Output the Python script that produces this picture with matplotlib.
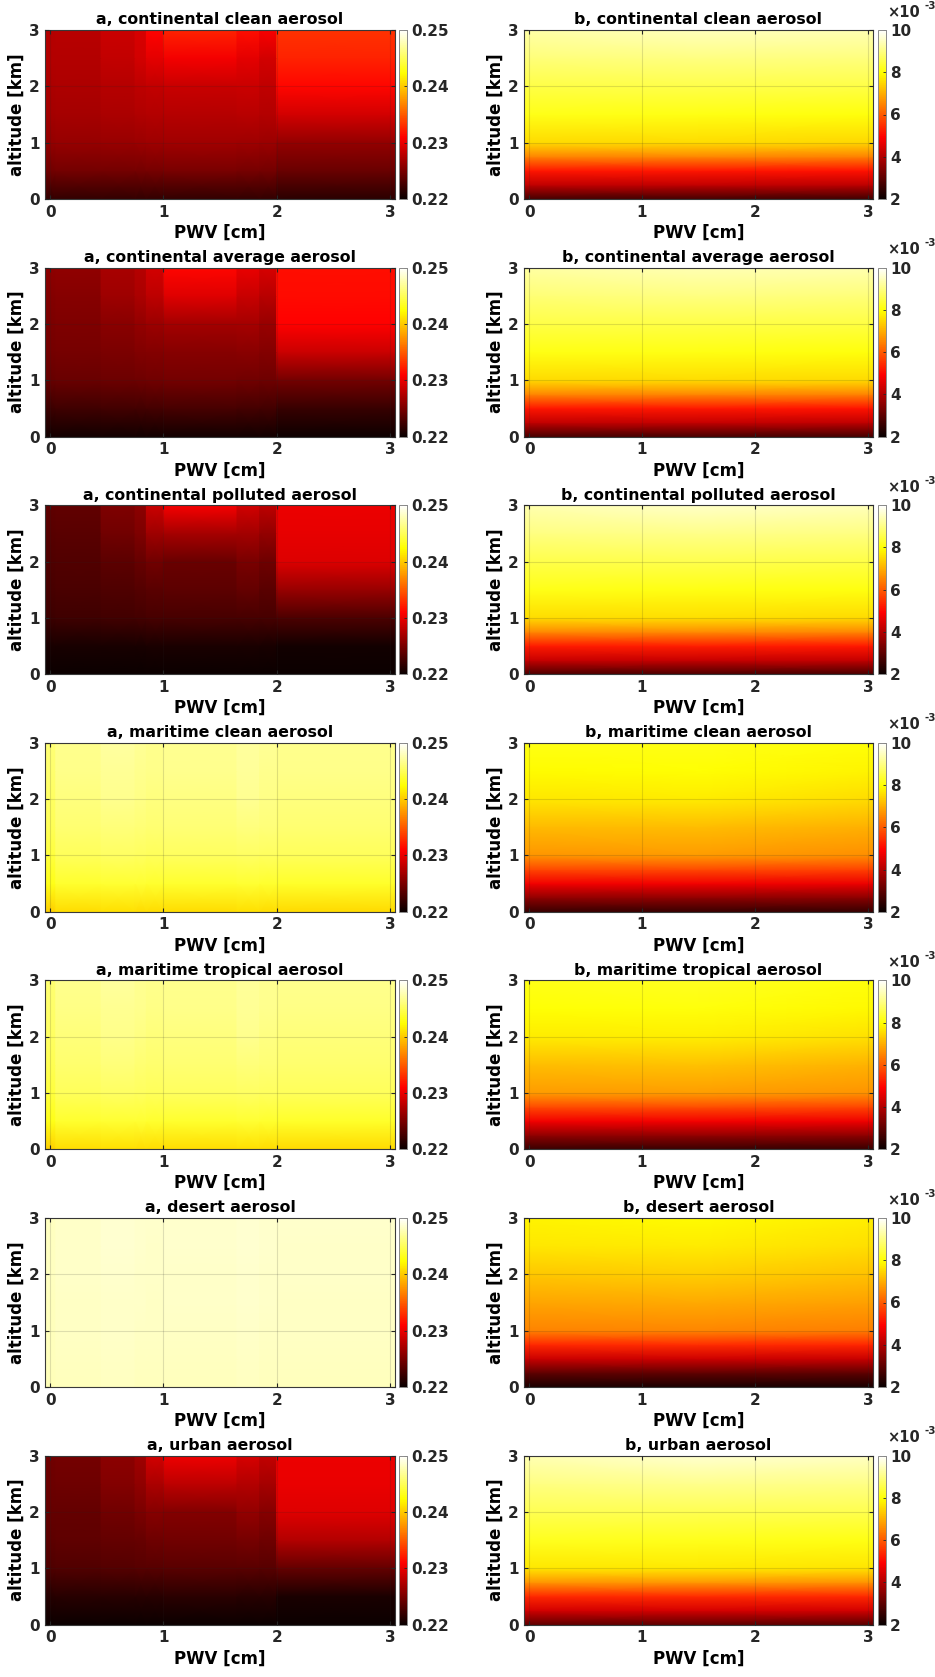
import numpy as np
import matplotlib
matplotlib.use("Agg")
import matplotlib.pyplot as plt
from matplotlib.ticker import FuncFormatter

plt.rcParams['font.family'] = ['DejaVu Sans']
plt.rcParams['font.weight'] = 'bold'

# ---------------- data ----------------
titles = ["continental clean aerosol", "continental average aerosol",
          "continental polluted aerosol", "maritime clean aerosol",
          "maritime tropical aerosol", "desert aerosol", "urban aerosol"]

# left panels (a): altitude levels x PWV bands
alt_a = [0.0, 0.5, 1.0, 1.5, 2.0, 2.5, 3.0]
pwv_edges_a = [-0.045, 0.05, 0.45, 0.75, 0.85, 1.0, 1.65, 1.85, 2.0, 3.045]

a_cont_clean = [
    [0.2218, 0.2218, 0.2218, 0.2218, 0.2218, 0.2218, 0.2218, 0.2218, 0.2215],
    [0.2246, 0.2247, 0.2248, 0.2248, 0.2249, 0.2250, 0.2249, 0.2248, 0.2243],
    [0.2262, 0.2263, 0.2264, 0.2265, 0.2266, 0.2267, 0.2266, 0.2265, 0.2262],
    [0.2268, 0.2270, 0.2272, 0.2274, 0.2276, 0.2277, 0.2278, 0.2275, 0.2290],
    [0.2272, 0.2273, 0.2277, 0.2280, 0.2283, 0.2285, 0.2286, 0.2281, 0.2312],
    [0.2275, 0.2276, 0.2283, 0.2290, 0.2298, 0.2305, 0.2298, 0.2290, 0.2325],
    [0.2277, 0.2278, 0.2286, 0.2292, 0.2311, 0.2325, 0.2316, 0.2307, 0.2332]]
a_cont_avg = [
    [0.2204, 0.2204, 0.2204, 0.2204, 0.2204, 0.2204, 0.2204, 0.2204, 0.2202],
    [0.2223, 0.2224, 0.2225, 0.2225, 0.2226, 0.2227, 0.2226, 0.2225, 0.2220],
    [0.2242, 0.2243, 0.2244, 0.2245, 0.2246, 0.2247, 0.2246, 0.2245, 0.2247],
    [0.2248, 0.2249, 0.2251, 0.2253, 0.2255, 0.2256, 0.2257, 0.2254, 0.2286],
    [0.2251, 0.2252, 0.2257, 0.2262, 0.2265, 0.2268, 0.2270, 0.2264, 0.2310],
    [0.2255, 0.2256, 0.2266, 0.2272, 0.2280, 0.2295, 0.2285, 0.2278, 0.2314],
    [0.2259, 0.2260, 0.2271, 0.2277, 0.2290, 0.2312, 0.2300, 0.2292, 0.2315]]
a_cont_poll = [
    [0.2200, 0.2200, 0.2200, 0.2200, 0.2200, 0.2200, 0.2200, 0.2200, 0.2200],
    [0.2206, 0.2206, 0.2207, 0.2207, 0.2208, 0.2208, 0.2208, 0.2207, 0.2204],
    [0.2223, 0.2224, 0.2225, 0.2226, 0.2227, 0.2228, 0.2228, 0.2227, 0.2230],
    [0.2228, 0.2229, 0.2231, 0.2233, 0.2236, 0.2237, 0.2240, 0.2236, 0.2264],
    [0.2231, 0.2232, 0.2237, 0.2242, 0.2246, 0.2243, 0.2250, 0.2245, 0.2294],
    [0.2235, 0.2236, 0.2246, 0.2252, 0.2266, 0.2270, 0.2268, 0.2262, 0.2299],
    [0.2238, 0.2239, 0.2252, 0.2258, 0.2286, 0.2306, 0.2290, 0.2280, 0.2301]]
a_mar_clean = [
    [0.2402, 0.2408, 0.2409, 0.2408, 0.2408, 0.2408, 0.2409, 0.2408, 0.2407],
    [0.2430, 0.2437, 0.2439, 0.2438, 0.2437, 0.2437, 0.2439, 0.2437, 0.2436],
    [0.2442, 0.2450, 0.2452, 0.2451, 0.2450, 0.2451, 0.2453, 0.2451, 0.2450],
    [0.2449, 0.2457, 0.2460, 0.2458, 0.2457, 0.2458, 0.2461, 0.2459, 0.2457],
    [0.2453, 0.2461, 0.2465, 0.2463, 0.2461, 0.2462, 0.2467, 0.2463, 0.2461],
    [0.2456, 0.2464, 0.2468, 0.2466, 0.2464, 0.2465, 0.2469, 0.2466, 0.2464],
    [0.2458, 0.2466, 0.2471, 0.2468, 0.2466, 0.2467, 0.2470, 0.2468, 0.2466]]
a_mar_trop = [
    [0.2402, 0.2408, 0.2409, 0.2408, 0.2408, 0.2408, 0.2409, 0.2408, 0.2407],
    [0.2430, 0.2437, 0.2439, 0.2438, 0.2437, 0.2437, 0.2439, 0.2437, 0.2436],
    [0.2442, 0.2450, 0.2452, 0.2451, 0.2450, 0.2451, 0.2453, 0.2451, 0.2450],
    [0.2448, 0.2456, 0.2459, 0.2457, 0.2456, 0.2457, 0.2460, 0.2458, 0.2456],
    [0.2452, 0.2460, 0.2464, 0.2462, 0.2460, 0.2461, 0.2466, 0.2462, 0.2460],
    [0.2455, 0.2463, 0.2467, 0.2465, 0.2463, 0.2464, 0.2468, 0.2465, 0.2463],
    [0.2457, 0.2465, 0.2470, 0.2467, 0.2465, 0.2466, 0.2469, 0.2467, 0.2465]]
a_desert = [
    [0.2478, 0.2480, 0.2481, 0.2480, 0.2480, 0.2480, 0.2481, 0.2480, 0.2480],
    [0.2479, 0.2481, 0.2482, 0.2481, 0.2481, 0.2481, 0.2482, 0.2481, 0.2481],
    [0.2480, 0.2482, 0.2483, 0.2482, 0.2482, 0.2482, 0.2483, 0.2482, 0.2482],
    [0.2480, 0.2482, 0.2483, 0.2483, 0.2482, 0.2483, 0.2484, 0.2483, 0.2482],
    [0.2481, 0.2483, 0.2484, 0.2483, 0.2483, 0.2483, 0.2484, 0.2483, 0.2483],
    [0.2481, 0.2483, 0.2485, 0.2484, 0.2483, 0.2484, 0.2485, 0.2484, 0.2483],
    [0.2481, 0.2483, 0.2485, 0.2484, 0.2484, 0.2484, 0.2485, 0.2484, 0.2484]]
a_urban = [
    [0.2201, 0.2201, 0.2201, 0.2201, 0.2201, 0.2201, 0.2201, 0.2201, 0.2200],
    [0.2212, 0.2213, 0.2213, 0.2214, 0.2214, 0.2215, 0.2214, 0.2213, 0.2208],
    [0.2231, 0.2232, 0.2233, 0.2234, 0.2235, 0.2236, 0.2236, 0.2235, 0.2240],
    [0.2237, 0.2238, 0.2240, 0.2242, 0.2245, 0.2246, 0.2249, 0.2245, 0.2275],
    [0.2240, 0.2241, 0.2246, 0.2251, 0.2256, 0.2255, 0.2262, 0.2256, 0.2296],
    [0.2244, 0.2245, 0.2254, 0.2260, 0.2272, 0.2280, 0.2276, 0.2270, 0.2300],
    [0.2246, 0.2247, 0.2258, 0.2266, 0.2290, 0.2303, 0.2292, 0.2283, 0.2301]]
a_data = [a_cont_clean, a_cont_avg, a_cont_poll, a_mar_clean, a_mar_trop, a_desert, a_urban]

# right panels (b): altitude levels x PWV columns (gouraud nodes)
alt_b = [0.0, 0.25, 0.5, 0.75, 1.0, 1.5, 2.0, 2.5, 3.0]
pwv_nodes_b = [-0.045, 1.5, 3.045]

b_cont_clean = [
    [2.69e-3, 2.69e-3, 2.65e-3], [4.18e-3, 4.20e-3, 4.15e-3], [5.16e-3, 5.18e-3, 5.12e-3],
    [6.48e-3, 6.50e-3, 6.45e-3], [7.50e-3, 7.55e-3, 7.48e-3], [8.13e-3, 8.10e-3, 8.05e-3],
    [8.53e-3, 8.55e-3, 8.50e-3], [8.93e-3, 9.00e-3, 8.95e-3], [9.30e-3, 9.45e-3, 9.40e-3]]
b_cont_avg = [
    [2.75e-3, 2.75e-3, 2.70e-3], [4.20e-3, 4.22e-3, 4.18e-3], [5.18e-3, 5.20e-3, 5.15e-3],
    [6.50e-3, 6.52e-3, 6.48e-3], [7.52e-3, 7.55e-3, 7.50e-3], [8.12e-3, 8.10e-3, 8.05e-3],
    [8.50e-3, 8.52e-3, 8.48e-3], [8.90e-3, 8.98e-3, 8.92e-3], [9.28e-3, 9.40e-3, 9.35e-3]]
b_cont_poll = [
    [2.80e-3, 2.80e-3, 2.75e-3], [4.25e-3, 4.27e-3, 4.22e-3], [5.22e-3, 5.25e-3, 5.20e-3],
    [6.55e-3, 6.58e-3, 6.52e-3], [7.55e-3, 7.58e-3, 7.52e-3], [8.15e-3, 8.12e-3, 8.08e-3],
    [8.55e-3, 8.58e-3, 8.52e-3], [8.98e-3, 9.05e-3, 9.00e-3], [9.35e-3, 9.55e-3, 9.45e-3]]
b_mar_clean = [
    [2.55e-3, 2.55e-3, 2.50e-3], [3.60e-3, 3.62e-3, 3.55e-3], [4.75e-3, 4.78e-3, 4.70e-3],
    [5.76e-3, 5.80e-3, 5.70e-3], [6.71e-3, 6.75e-3, 6.62e-3], [7.13e-3, 7.18e-3, 7.02e-3],
    [7.67e-3, 7.72e-3, 7.55e-3], [7.93e-3, 7.98e-3, 7.82e-3], [8.10e-3, 8.15e-3, 8.00e-3]]
b_mar_trop = [
    [2.55e-3, 2.55e-3, 2.50e-3], [3.62e-3, 3.65e-3, 3.58e-3], [4.78e-3, 4.80e-3, 4.72e-3],
    [5.80e-3, 5.84e-3, 5.74e-3], [6.75e-3, 6.80e-3, 6.66e-3], [7.18e-3, 7.22e-3, 7.06e-3],
    [7.72e-3, 7.78e-3, 7.60e-3], [7.98e-3, 8.04e-3, 7.88e-3], [8.15e-3, 8.22e-3, 8.06e-3]]
b_desert = [
    [2.20e-3, 2.20e-3, 2.18e-3], [3.03e-3, 3.05e-3, 3.00e-3], [4.29e-3, 4.32e-3, 4.25e-3],
    [5.40e-3, 5.44e-3, 5.35e-3], [6.48e-3, 6.52e-3, 6.42e-3], [6.90e-3, 6.95e-3, 6.82e-3],
    [7.31e-3, 7.38e-3, 7.22e-3], [7.67e-3, 7.74e-3, 7.58e-3], [7.84e-3, 7.92e-3, 7.78e-3]]
b_urban = [
    [3.00e-3, 3.00e-3, 2.95e-3], [4.40e-3, 4.42e-3, 4.38e-3], [5.40e-3, 5.42e-3, 5.38e-3],
    [6.70e-3, 6.72e-3, 6.68e-3], [7.67e-3, 7.70e-3, 7.65e-3], [8.20e-3, 8.18e-3, 8.12e-3],
    [8.60e-3, 8.62e-3, 8.58e-3], [9.00e-3, 9.08e-3, 9.02e-3], [9.40e-3, 9.60e-3, 9.50e-3]]
b_data = [b_cont_clean, b_cont_avg, b_cont_poll, b_mar_clean, b_mar_trop, b_desert, b_urban]

a_clim = (0.22, 0.25)
a_ticks = [0.22, 0.23, 0.24, 0.25]
b_clim = (2e-3, 10e-3)
b_ticks = [2e-3, 4e-3, 6e-3, 8e-3, 10e-3]
xticks = [0, 1, 2, 3]
yticks = [0, 1, 2, 3]

# ---------------- figure ----------------
W, H = 935, 1677
fig = plt.figure(figsize=(W / 100, H / 100), dpi=100)

axcol = '#262626'
fs_tick = 11
fs_lab = 12
fs_title = 11.3


def style_axes(ax):
    ax.set_xlim(-0.045, 3.045)
    ax.set_ylim(0, 3)
    ax.set_xticks(xticks)
    ax.set_yticks(yticks)
    ax.tick_params(direction='in', length=3, width=0.8, colors=axcol,
                   top=True, right=True, labelsize=fs_tick, pad=4)
    for lab in ax.get_xticklabels() + ax.get_yticklabels():
        lab.set_fontweight('bold')
    for s in ax.spines.values():
        s.set_color('#3a3a3a')
        s.set_linewidth(0.8)
    ax.grid(True, color='#262626', alpha=0.15, linewidth=0.8)
    ax.set_axisbelow(False)
    ax.set_xlabel('PWV [cm]', fontsize=fs_lab, fontweight='bold', labelpad=3)
    ax.set_ylabel('altitude [km]', fontsize=fs_lab, fontweight='bold', labelpad=2)


def px_rect(x0, y0, w, h):
    return [x0 / W, 1 - (y0 + h) / H, w / W, h / H]


row_step = 237.6
ax_h = 169
for i in range(7):
    top = 30 + i * row_step
    # ----- panel a -----
    ax = fig.add_axes(px_rect(45, top, 350, ax_h))
    edges = np.array(pwv_edges_a)
    xs = np.empty(2 * (len(edges) - 1))
    xs[0::2] = edges[:-1]
    xs[1::2] = edges[1:]
    Z = np.repeat(np.array(a_data[i]), 2, axis=1)
    X, Y = np.meshgrid(xs, np.array(alt_a))
    m = ax.pcolormesh(X, Y, Z, shading='gouraud', cmap='hot',
                      vmin=a_clim[0], vmax=a_clim[1], rasterized=True)
    style_axes(ax)
    ax.set_title('a, ' + titles[i], fontsize=fs_title, fontweight='bold', pad=4)
    cax = fig.add_axes(px_rect(399, top, 8, ax_h))
    cb = fig.colorbar(m, cax=cax, ticks=a_ticks)
    cb.ax.yaxis.set_major_formatter(FuncFormatter(lambda v, p: f"{v:.2f}"))
    cb.ax.tick_params(direction='in', length=2, width=0.6, colors=axcol,
                      labelsize=fs_tick, pad=3)
    for lab in cb.ax.get_yticklabels():
        lab.set_fontweight('bold')
    cb.outline.set_edgecolor('#8a8a8a')
    cb.outline.set_linewidth(0.7)

    # ----- panel b -----
    ax = fig.add_axes(px_rect(524, top, 349, ax_h))
    X, Y = np.meshgrid(np.array(pwv_nodes_b), np.array(alt_b))
    m = ax.pcolormesh(X, Y, np.array(b_data[i]), shading='gouraud', cmap='hot',
                      vmin=b_clim[0], vmax=b_clim[1], rasterized=True)
    style_axes(ax)
    ax.set_title('b, ' + titles[i], fontsize=fs_title, fontweight='bold', pad=4)
    cax = fig.add_axes(px_rect(878, top, 8, ax_h))
    cb = fig.colorbar(m, cax=cax, ticks=b_ticks)
    cb.ax.yaxis.set_major_formatter(FuncFormatter(lambda v, p: f"{v * 1e3:.0f}"))
    cb.ax.tick_params(direction='in', length=2, width=0.6, colors=axcol,
                      labelsize=fs_tick, pad=3)
    for lab in cb.ax.get_yticklabels():
        lab.set_fontweight('bold')
    cb.outline.set_edgecolor('#8a8a8a')
    cb.outline.set_linewidth(0.7)
    cax.annotate('\u00d710', xy=(1.0, 1.0), xycoords='axes fraction',
                 xytext=(1, 7.5), textcoords='offset points', fontsize=10.5,
                 fontweight='bold', color=axcol, ha='left', va='bottom')
    cax.annotate('-3', xy=(1.0, 1.0), xycoords='axes fraction',
                 xytext=(27.5, 14), textcoords='offset points',
                 fontsize=7.5, fontweight='bold', color=axcol, ha='left', va='bottom')

fig.savefig('out.png', dpi=100)
